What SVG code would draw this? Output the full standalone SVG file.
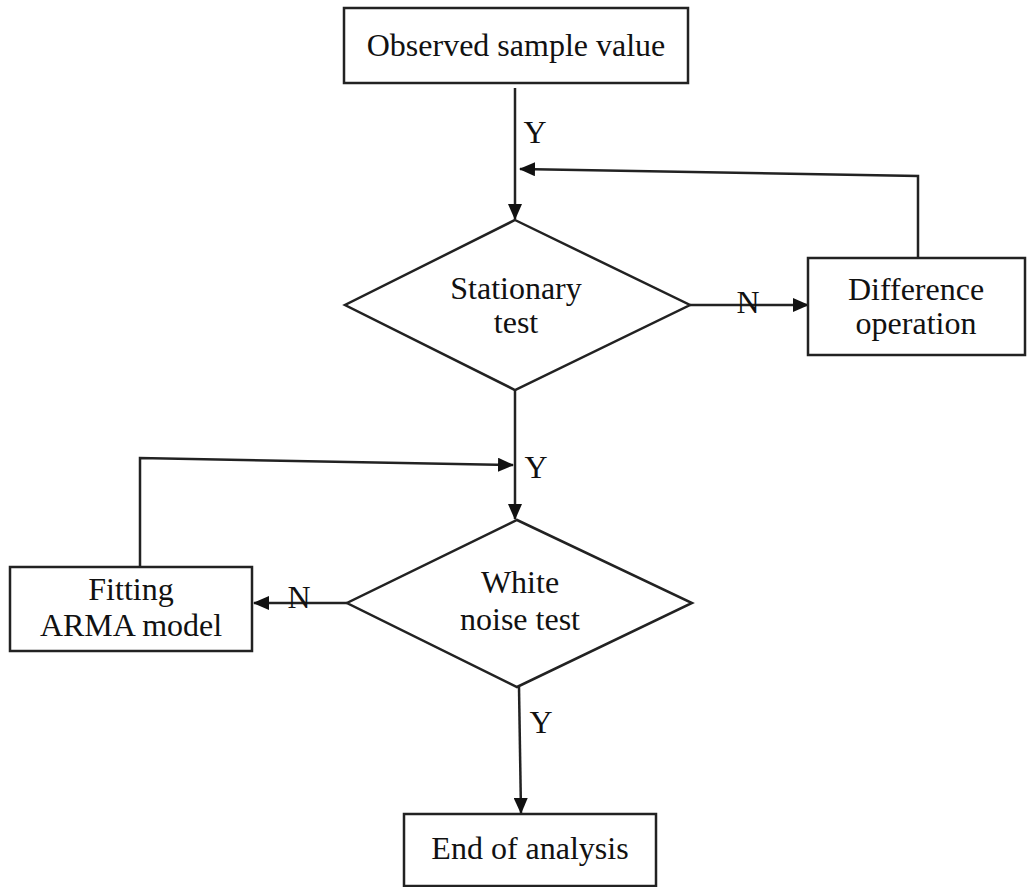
<svg xmlns="http://www.w3.org/2000/svg" width="1027" height="887" viewBox="0 0 1027 887">
<style>
.box{fill:#fff;stroke:#222;stroke-width:2.5}
.ln{fill:none;stroke:#222;stroke-width:2.5}
.t{font-family:"Liberation Serif","Times New Roman",serif;font-size:32px;fill:#111;text-anchor:middle}
</style>
<defs>
<marker id="ah" markerWidth="16" markerHeight="14" refX="15" refY="7" orient="auto" markerUnits="userSpaceOnUse">
<path d="M0,0 L16,7 L0,14 Z" fill="#111"/>
</marker>
</defs>
<rect width="1027" height="887" fill="#fff"/>
<g id="connectors">
<line class="ln" x1="515" y1="88" x2="515" y2="219" marker-end="url(#ah)"/>
<polyline class="ln" points="918,258 918,176 520,169" marker-end="url(#ah)"/>
<line class="ln" x1="690" y1="305" x2="808" y2="305" marker-end="url(#ah)"/>
<line class="ln" x1="515" y1="390" x2="515" y2="519" marker-end="url(#ah)"/>
<polyline class="ln" points="140,567 140,458 513,465" marker-end="url(#ah)"/>
<line class="ln" x1="347" y1="603" x2="254" y2="603" marker-end="url(#ah)"/>
<line class="ln" x1="519" y1="687" x2="521" y2="813" marker-end="url(#ah)"/>
<text class="t" x="535" y="143">Y</text>
<text class="t" x="748" y="313">N</text>
<text class="t" x="536" y="478">Y</text>
<text class="t" x="299" y="608">N</text>
<text class="t" x="541" y="733">Y</text>
</g>
<g id="observed">
<rect class="box" x="344" y="8" width="344" height="75"/>
<text class="t" x="516" y="56">Observed sample value</text>
</g>
<g id="stationary">
<polygon class="box" points="515,220 690,305 515,390 345,305"/>
<text class="t" x="516" y="299">Stationary</text>
<text class="t" x="516" y="333">test</text>
</g>
<g id="difference">
<rect class="box" x="808" y="258" width="217" height="97"/>
<text class="t" x="916" y="300">Difference</text>
<text class="t" x="916" y="334">operation</text>
</g>
<g id="whitenoise">
<polygon class="box" points="517,520 692,603 517,687 347,603"/>
<text class="t" x="520" y="593">White</text>
<text class="t" x="520" y="630">noise test</text>
</g>
<g id="fitting">
<rect class="box" x="10" y="567" width="242" height="84"/>
<text class="t" x="131" y="600">Fitting</text>
<text class="t" x="131" y="636">ARMA model</text>
</g>
<g id="end">
<rect class="box" x="404" y="814" width="252" height="72"/>
<text class="t" x="530" y="859">End of analysis</text>
</g>
</svg>
